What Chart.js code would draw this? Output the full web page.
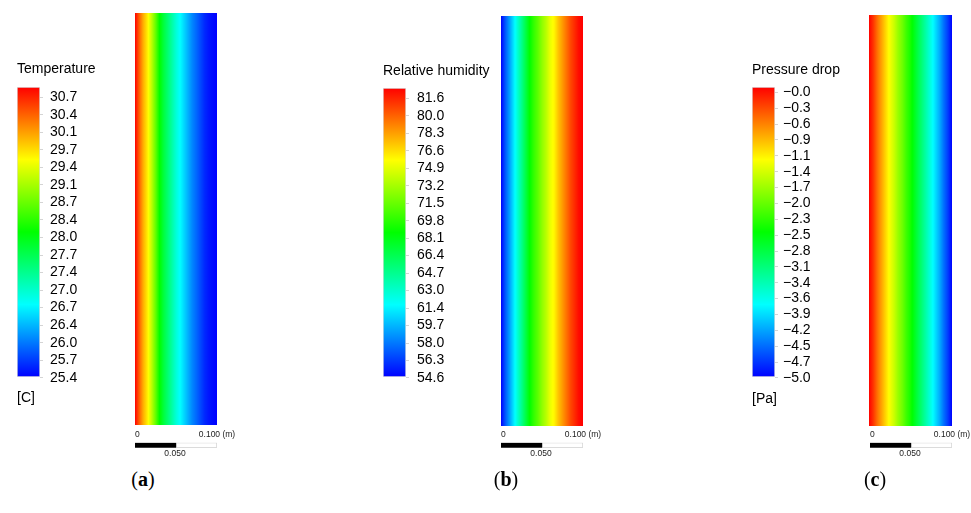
<!DOCTYPE html>
<html>
<head>
<meta charset="utf-8">
<script src="https://cdn.jsdelivr.net/npm/chart.js@4.4.1/dist/chart.umd.min.js"></script>
<style>
html, body { margin: 0; padding: 0; background: #fff; }
#page { position: relative; width: 971px; height: 513px; overflow: hidden; background: #fff; }
#page canvas { position: absolute; display: block; }
.lbl { position: absolute; width: 60px; text-align: center; font-family: 'Liberation Serif', 'Times New Roman', serif; font-size: 20px; line-height: 20px; color: #000; }
</style>
</head>
<body>
<div id="page">
  <canvas id="cbA" width="130" height="352" style="left:17px;top:55px"></canvas>
  <canvas id="cbB" width="130" height="352" style="left:383px;top:55px"></canvas>
  <canvas id="cbC" width="130" height="353" style="left:752px;top:55px"></canvas>
  <canvas id="stA" width="82" height="412" style="left:135px;top:13px"></canvas>
  <canvas id="stB" width="82" height="410" style="left:501px;top:16px"></canvas>
  <canvas id="stC" width="83" height="411" style="left:869px;top:15px"></canvas>
  <canvas id="sbA" width="132" height="40" style="left:115px;top:425px"></canvas>
  <canvas id="sbB" width="132" height="40" style="left:481px;top:425px"></canvas>
  <canvas id="sbC" width="132" height="40" style="left:850px;top:425px"></canvas>
  <div class="lbl" style="left:113px;top:469px">(<b>a</b>)</div>
  <div class="lbl" style="left:476px;top:469px">(<b>b</b>)</div>
  <div class="lbl" style="left:845px;top:469px">(<b>c</b>)</div>
</div>
<script>
// ---------------- data ----------------
// sample positions across the domain width (m)
const positions = [0, 0.005, 0.010, 0.015, 0.020, 0.025, 0.030, 0.035, 0.040, 0.045, 0.050,
                   0.055, 0.060, 0.065, 0.070, 0.075, 0.080, 0.085, 0.090, 0.095, 0.100];
// field values read across the strip (left -> right)
const temperature = [30.73, 30.25, 29.82, 29.50, 29.07, 28.59, 28.06, 27.73, 27.47, 27.20, 26.93,
                     26.72, 26.50, 26.29, 26.08, 25.92, 25.75, 25.59, 25.49, 25.43, 25.38];
const humidity = [54.62, 56.78, 58.67, 60.56, 62.45, 64.34, 66.23, 68.12, 69.47, 70.55, 71.90,
                  72.98, 74.33, 75.14, 76.49, 77.57, 78.65, 79.73, 80.54, 81.35, 81.62];
const pressure = [-0.03, -0.28, -0.58, -0.83, -1.08, -1.33, -1.53, -1.78, -1.98, -2.23, -2.43,
                  -2.68, -2.93, -3.18, -3.43, -3.68, -3.93, -4.18, -4.48, -4.73, -5.03];
// colour-scale ranges [min, max]
const tempRange = [25.38, 30.73];
const humRange = [54.62, 81.62];
const presRange = [-5.03, -0.03];
// legend tick labels (top -> bottom)
const tempTicks = ['30.7', '30.4', '30.1', '29.7', '29.4', '29.1', '28.7', '28.4', '28.0',
                   '27.7', '27.4', '27.0', '26.7', '26.4', '26.0', '25.7', '25.4'];
const humTicks = ['81.6', '80.0', '78.3', '76.6', '74.9', '73.2', '71.5', '69.8', '68.1',
                  '66.4', '64.7', '63.0', '61.4', '59.7', '58.0', '56.3', '54.6'];
const presTicks = ['\u22120.0', '\u22120.3', '\u22120.6', '\u22120.9', '\u22121.1', '\u22121.4', '\u22121.7',
                   '\u22122.0', '\u22122.3', '\u22122.5', '\u22122.8', '\u22123.1', '\u22123.4', '\u22123.6',
                   '\u22123.9', '\u22124.2', '\u22124.5', '\u22124.7', '\u22125.0'];
// scale bar (segment lengths in m, stacked from 0)
const scaleBarLengths = [0.05, 0.05];
const scaleTopTicks = [0, 0.1];
const scaleTopLabels = ['0', '0.100 (m)'];
const scaleMidTicks = [0.05];
const scaleMidLabels = ['0.050'];

// ---------------- styling / helpers ----------------
Chart.defaults.font.family = "'Liberation Sans', Arial, sans-serif";
Chart.defaults.color = '#000';

const knots = [[0, 0, 255], [0, 255, 255], [0, 255, 0], [255, 255, 0], [255, 0, 0]];
function rainbow(t) {
  t = Math.min(1, Math.max(0, t));
  const s = t * 4;
  const i = Math.min(3, Math.floor(s));
  const f = s - i;
  const a = knots[i], b = knots[i + 1];
  const c = a.map((v, k) => Math.round(v + (b[k] - v) * f));
  return 'rgb(' + c.join(',') + ')';
}
const clamp01 = v => Math.min(1, Math.max(0, v));

function stripGradient(context, values, range) {
  const chart = context.chart;
  const area = chart.chartArea;
  if (!area) return null;
  const xs = chart.scales.x;
  const w = area.right - area.left;
  const g = chart.ctx.createLinearGradient(area.left, 0, area.right, 0);
  const norm = v => (v - range[0]) / (range[1] - range[0]);
  const n = values.length;
  for (let i = 0; i < n; i++) {
    const pi = (xs.getPixelForValue(positions[i]) - area.left) / w;
    const ti = norm(values[i]);
    g.addColorStop(clamp01(pi), rainbow(ti));
    if (i < n - 1) {
      const pj = (xs.getPixelForValue(positions[i + 1]) - area.left) / w;
      const tj = norm(values[i + 1]);
      const cross = [];
      [0.25, 0.5, 0.75].forEach(k => {
        if ((k - ti) * (k - tj) < 0) cross.push({ f: (k - ti) / (tj - ti), k: k });
      });
      cross.sort((a, b) => a.f - b.f);
      cross.forEach(c => g.addColorStop(clamp01(pi + c.f * (pj - pi)), rainbow(c.k)));
    }
  }
  return g;
}

function barGradient(context) {
  const chart = context.chart;
  const area = chart.chartArea;
  if (!area) return null;
  const g = chart.ctx.createLinearGradient(0, area.bottom, 0, area.top);
  [0, 0.25, 0.5, 0.75, 1].forEach(t => g.addColorStop(t, rainbow(t)));
  return g;
}

const baseOpts = {
  responsive: false,
  animation: false,
  devicePixelRatio: 1,
  events: [],
};

function makeStrip(id, values, range) {
  new Chart(document.getElementById(id), {
    type: 'bar',
    data: {
      labels: ['field'],
      datasets: [{
        data: [[positions[0], positions[positions.length - 1]]],
        backgroundColor: ctx => stripGradient(ctx, values, range),
        borderWidth: 0,
        barPercentage: 1,
        categoryPercentage: 1
      }]
    },
    options: Object.assign({}, baseOpts, {
      indexAxis: 'y',
      layout: { padding: 0 },
      plugins: { legend: { display: false }, tooltip: { enabled: false } },
      scales: {
        x: { type: 'linear', min: 0, max: 0.1, display: false },
        y: { display: false }
      }
    })
  });
}

function makeColorbar(id, labels, lay) {
  new Chart(document.getElementById(id), {
    type: 'bar',
    data: {
      labels: ['bar'],
      datasets: [{
        data: [[lay.min, lay.max]],
        backgroundColor: barGradient,
        borderColor: '#dcdcdc',
        borderWidth: 1,
        borderSkipped: false,
        barPercentage: 1,
        categoryPercentage: 1
      }]
    },
    options: Object.assign({}, baseOpts, {
      layout: { padding: { top: 0, left: 0, right: 7, bottom: 0 } },
      plugins: {
        legend: { display: false },
        tooltip: { enabled: false },
        title: {
          display: true, text: lay.title, align: 'start', color: '#000',
          font: { size: 14, weight: 'normal', lineHeight: 1.2 },
          padding: { top: lay.tPadTop, bottom: lay.tPadBottom }
        },
        subtitle: {
          display: true, position: 'bottom', text: lay.unit, align: 'start', color: '#000',
          font: { size: 14, weight: 'normal', lineHeight: 1.2 },
          padding: { top: lay.uPadTop, bottom: lay.uPadBottom }
        }
      },
      scales: {
        x: { display: false },
        y: {
          type: 'linear', position: 'right', reverse: true,
          min: lay.min, max: lay.max,
          afterFit: s => { s.width = 100; },
          afterBuildTicks: s => { s.ticks = labels.map((_, i) => ({ value: i })); },
          ticks: {
            autoSkip: false, padding: lay.labelPad, color: '#000',
            font: { size: 14 },
            callback: v => labels[Math.round(v)]
          },
          grid: { drawOnChartArea: false, drawTicks: true, tickLength: 3, color: '#d4d4d4' },
          border: { display: false }
        }
      }
    })
  });
}

// draws the scale-bar tick labels at positions given by the chart's x scale
const scaleBarLabels = {
  id: 'scaleBarLabels',
  afterDraw(chart) {
    const { ctx, chartArea, scales } = chart;
    const x = scales.x;
    ctx.save();
    ctx.font = "8.5px 'Liberation Sans', Arial, sans-serif";
    ctx.fillStyle = '#222';
    ctx.textBaseline = 'middle';
    scaleTopTicks.forEach((v, i) => {
      const label = scaleTopLabels[i];
      const px = x.getPixelForValue(v);
      if (i === 0) { ctx.textAlign = 'left'; ctx.fillText(label, px, chartArea.top - 7.7); }
      else { ctx.textAlign = 'center'; ctx.fillText(label, px, chartArea.top - 7.7); }
    });
    ctx.textAlign = 'center';
    scaleMidTicks.forEach((v, i) => ctx.fillText(scaleMidLabels[i], x.getPixelForValue(v) - 1, chartArea.bottom + 5.6));
    ctx.restore();
  }
};

function makeScaleBar(id) {
  new Chart(document.getElementById(id), {
    type: 'bar',
    data: {
      labels: ['scale'],
      datasets: [
        { data: [scaleBarLengths[0]], backgroundColor: '#000', borderColor: '#000', borderWidth: 1, borderSkipped: false, barPercentage: 1, categoryPercentage: 1 },
        { data: [scaleBarLengths[1]], backgroundColor: '#fff', borderColor: '#cfcfcf', borderWidth: 1, borderSkipped: false, barPercentage: 1, categoryPercentage: 1 }
      ]
    },
    options: Object.assign({}, baseOpts, {
      indexAxis: 'y',
      layout: { padding: { top: 17.7, left: 20, right: 30, bottom: 17.3 } },
      plugins: { legend: { display: false }, tooltip: { enabled: false } },
      scales: {
        x: { type: 'linear', min: 0, max: 0.1, stacked: true, display: false },
        y: { display: false, stacked: true }
      }
    }),
    plugins: [scaleBarLabels]
  });
}

// ---------------- build ----------------
makeColorbar('cbA', tempTicks, { title: 'Temperature', unit: '[C]', min: -0.588, max: 15.96,
  tPadTop: 5.6, tPadBottom: 9.6, uPadTop: 12.9, uPadBottom: 0.3, labelPad: 7 });
makeColorbar('cbB', humTicks, { title: 'Relative humidity', unit: '', min: -0.589, max: 15.943,
  tPadTop: 7.3, tPadBottom: 8.9, uPadTop: 12.9, uPadBottom: 0.3, labelPad: 8 });
makeColorbar('cbC', presTicks, { title: 'Pressure drop', unit: '[Pa]', min: -0.334, max: 17.937,
  tPadTop: 6.6, tPadBottom: 8.6, uPadTop: 13.6, uPadBottom: 0.6, labelPad: 5 });

makeStrip('stA', temperature, tempRange);
makeStrip('stB', humidity, humRange);
makeStrip('stC', pressure, presRange);

makeScaleBar('sbA');
makeScaleBar('sbB');
makeScaleBar('sbC');
</script>
</body>
</html>
